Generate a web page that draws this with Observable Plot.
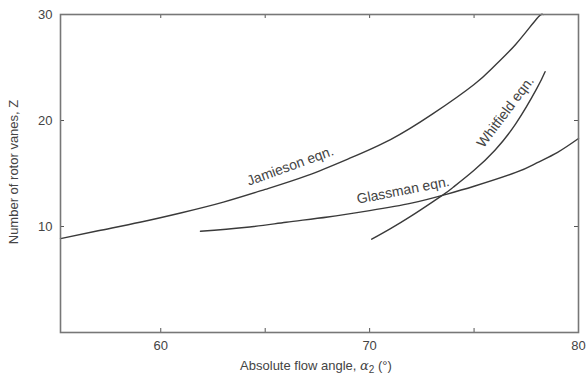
<!DOCTYPE html>
<html>
<head>
<meta charset="utf-8">
<script src="https://cdn.jsdelivr.net/npm/d3@7"></script>
<script src="https://cdn.jsdelivr.net/npm/@observablehq/plot@0.6"></script>
<style>
  body { margin: 0; background: #fff; }
  #chart svg { font-family: "Liberation Sans", Arial, sans-serif; }
</style>
</head>
<body>
<div id="chart"></div>
<script>
// Jamieson eqn. (angle, vanes)
const jamiesonAngle = [55.2, 57, 59, 61, 63, 65, 67, 69, 71, 73, 75, 76, 77, 78, 78.3];
const jamiesonZ     = [8.85, 9.6, 10.4, 11.3, 12.3, 13.5, 14.8, 16.4, 18.2, 20.6, 23.4, 25.2, 27.2, 29.6, 30];
// Glassman eqn.
const glassmanAngle = [61.9, 64, 66, 68, 70, 72, 73.6, 75, 77, 78, 79, 80];
const glassmanZ     = [9.55, 9.9, 10.4, 10.9, 11.5, 12.2, 13.0, 13.8, 15.1, 16.0, 17.0, 18.3];
// Whitfield eqn.
const whitfieldAngle = [70.1, 71, 72, 73, 73.6, 74, 75, 76, 77, 78, 78.4];
const whitfieldZ     = [8.8, 9.8, 11.0, 12.3, 13.1, 13.7, 15.3, 17.2, 19.7, 23.0, 24.6];

// curve labels
const labelText  = ["Jamieson eqn.", "Glassman eqn.", "Whitfield eqn."];
const labelAngle = [66.2, 71.6, 76.5];
const labelZ     = [15.7, 13.4, 20.8];
const labelRot   = [-20, -11, -53];

const xTicks = [60, 65, 70, 75];
const xTickLabels = [60, 70, 80];
const yTicks = [10, 20];
const yTickLabels = [10, 20, 30];

const toRows = (xs, ys) => xs.map((x, i) => ({x, y: ys[i]}));
const labels = labelText.map((t, i) => ({t, x: labelAngle[i], y: labelZ[i], r: labelRot[i]}));

const lineStyle = {x: "x", y: "y", stroke: "#3a3a3a", strokeWidth: 1.4, curve: "natural"};
const tickStyle = {stroke: "#555", strokeWidth: 1};

const plot = Plot.plot({
  width: 586,
  height: 379,
  marginLeft: 60,
  marginRight: 8,
  marginTop: 14,
  marginBottom: 47,
  x: {domain: [55.2, 80]},
  y: {domain: [0, 30]},
  style: {fontFamily: "Liberation Sans, Arial, sans-serif", fontSize: "13px", color: "#444", background: "#fff"},
  marks: [
    Plot.axisX(xTickLabels, {tickSize: 0, tickPadding: 8, label: null, fontSize: 13, fill: "#444"}),
    Plot.axisY(yTickLabels, {tickSize: 0, tickPadding: 8, label: null, fontSize: 13, fill: "#444"}),
    Plot.tickX(xTicks, {...tickStyle, insetTop: 314}),
    Plot.tickX(xTicks, {...tickStyle, insetBottom: 314}),
    Plot.tickY(yTicks, {...tickStyle, insetRight: 514}),
    Plot.tickY(yTicks, {...tickStyle, insetLeft: 514}),
    Plot.line(toRows(jamiesonAngle, jamiesonZ), lineStyle),
    Plot.line(toRows(glassmanAngle, glassmanZ), lineStyle),
    Plot.line(toRows(whitfieldAngle, whitfieldZ), lineStyle),
    Plot.text(labels, {x: "x", y: "y", text: "t", rotate: "r", fontSize: 14, fill: "#444"}),
    Plot.frame({stroke: "#777", strokeWidth: 1.6})
  ]
});

const svg = d3.select(plot);
// x axis title with subscript
const xt = svg.append("text")
  .attr("x", 316).attr("y", 370)
  .attr("text-anchor", "middle")
  .attr("fill", "#444")
  .attr("font-size", 13);
xt.append("tspan").text("Absolute flow angle, ");
xt.append("tspan").attr("font-style", "italic").attr("font-family", "DejaVu Serif, serif").text("α");
xt.append("tspan").attr("font-size", 10).attr("dy", 3).text("2");
xt.append("tspan").attr("dy", -3).text(" (°)");
// y axis title
svg.append("text")
  .attr("transform", "translate(18,172) rotate(-90)")
  .attr("text-anchor", "middle")
  .attr("fill", "#444")
  .attr("font-size", 13)
  .text("Number of rotor vanes, Z");

document.getElementById("chart").append(plot);
</script>
</body>
</html>
